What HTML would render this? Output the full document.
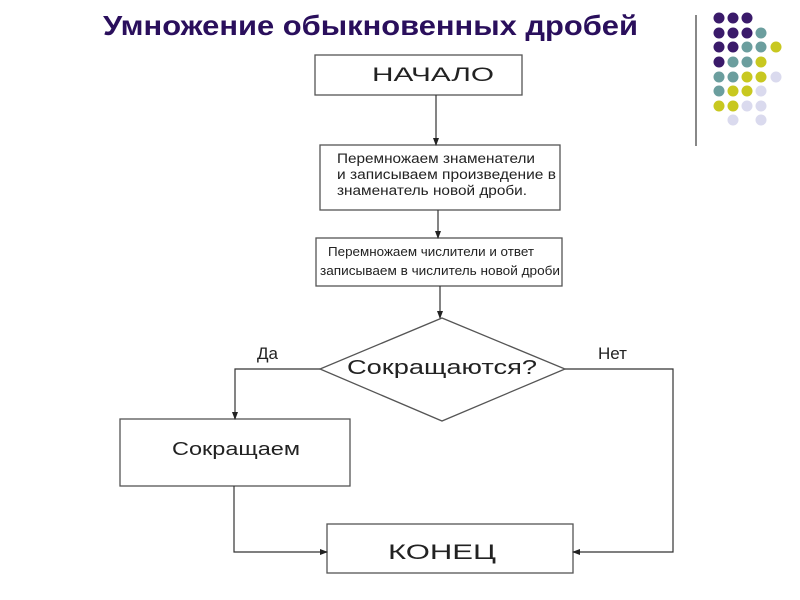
<!DOCTYPE html>
<html><head><meta charset="utf-8"><style>
html,body{margin:0;padding:0;background:#fff;}
svg{display:block;}
text{font-family:"Liberation Sans",sans-serif;}
</style></head><body>
<svg width="800" height="600" viewBox="0 0 800 600" xmlns="http://www.w3.org/2000/svg">
<defs><marker id="a" markerWidth="8" markerHeight="8" refX="7" refY="4" orient="auto" markerUnits="userSpaceOnUse"><path d="M0,1 L8,4 L0,7 z" fill="#222"/></marker></defs>
<text x="103" y="35" font-size="28" font-weight="bold" fill="#2a0f5c" textLength="535" lengthAdjust="spacingAndGlyphs">Умножение обыкновенных дробей</text>
<line x1="696" y1="15" x2="696" y2="146" stroke="#888" stroke-width="2"/>
<g>
<circle cx="719" cy="18" r="5.5" fill="#3a1a6a"/><circle cx="733" cy="18" r="5.5" fill="#3a1a6a"/><circle cx="747" cy="18" r="5.5" fill="#3a1a6a"/>
<circle cx="719" cy="33" r="5.5" fill="#3a1a6a"/><circle cx="733" cy="33" r="5.5" fill="#3a1a6a"/><circle cx="747" cy="33" r="5.5" fill="#3a1a6a"/><circle cx="761" cy="33" r="5.5" fill="#6b9e9e"/>
<circle cx="719" cy="47" r="5.5" fill="#3a1a6a"/><circle cx="733" cy="47" r="5.5" fill="#3a1a6a"/><circle cx="747" cy="47" r="5.5" fill="#6b9e9e"/><circle cx="761" cy="47" r="5.5" fill="#6b9e9e"/><circle cx="776" cy="47" r="5.5" fill="#c8c820"/>
<circle cx="719" cy="62" r="5.5" fill="#3a1a6a"/><circle cx="733" cy="62" r="5.5" fill="#6b9e9e"/><circle cx="747" cy="62" r="5.5" fill="#6b9e9e"/><circle cx="761" cy="62" r="5.5" fill="#c8c820"/>
<circle cx="719" cy="77" r="5.5" fill="#6b9e9e"/><circle cx="733" cy="77" r="5.5" fill="#6b9e9e"/><circle cx="747" cy="77" r="5.5" fill="#c8c820"/><circle cx="761" cy="77" r="5.5" fill="#c8c820"/><circle cx="776" cy="77" r="5.5" fill="#dadaee"/>
<circle cx="719" cy="91" r="5.5" fill="#6b9e9e"/><circle cx="733" cy="91" r="5.5" fill="#c8c820"/><circle cx="747" cy="91" r="5.5" fill="#c8c820"/><circle cx="761" cy="91" r="5.5" fill="#dadaee"/>
<circle cx="719" cy="106" r="5.5" fill="#c8c820"/><circle cx="733" cy="106" r="5.5" fill="#c8c820"/><circle cx="747" cy="106" r="5.5" fill="#dadaee"/><circle cx="761" cy="106" r="5.5" fill="#dadaee"/>
<circle cx="733" cy="120" r="5.5" fill="#dadaee"/><circle cx="761" cy="120" r="5.5" fill="#dadaee"/>
</g>
<g fill="#fff" stroke="#555" stroke-width="1.3">
<rect x="315" y="55" width="207" height="40"/>
<rect x="320" y="145" width="240" height="65"/>
<rect x="316" y="238" width="246" height="48"/>
<polygon points="442,318 565,369 442,421 320,369"/>
<rect x="120" y="419" width="230" height="67"/>
<rect x="327" y="524" width="246" height="49"/>
</g>
<g stroke="#333" stroke-width="1.2" fill="none" marker-end="url(#a)">
<line x1="436" y1="95" x2="436" y2="145"/>
<line x1="438" y1="210" x2="438" y2="238"/>
<line x1="440" y1="286" x2="440" y2="318"/>
<polyline points="320,369 235,369 235,419"/>
<polyline points="234,486 234,552 327,552"/>
<polyline points="565,369 673,369 673,552 573,552"/>
</g>
<g fill="#222">
<text x="372" y="81" font-size="19" textLength="122" lengthAdjust="spacingAndGlyphs">НАЧАЛО</text>
<text x="337" y="163" font-size="13.5" textLength="198" lengthAdjust="spacingAndGlyphs">Перемножаем знаменатели</text>
<text x="337" y="179" font-size="13.5" textLength="219" lengthAdjust="spacingAndGlyphs">и записываем произведение в</text>
<text x="337" y="195" font-size="13.5" textLength="190" lengthAdjust="spacingAndGlyphs">знаменатель новой дроби.</text>
<text x="328" y="256" font-size="13" textLength="206" lengthAdjust="spacingAndGlyphs">Перемножаем числители и ответ</text>
<text x="320" y="275" font-size="13" textLength="240" lengthAdjust="spacingAndGlyphs">записываем в числитель новой дроби</text>
<text x="347" y="374" font-size="20" textLength="190" lengthAdjust="spacingAndGlyphs">Сокращаются?</text>
<text x="257" y="359" font-size="17">Да</text>
<text x="598" y="359" font-size="17">Нет</text>
<text x="172" y="455" font-size="18" textLength="128" lengthAdjust="spacingAndGlyphs">Сокращаем</text>
<text x="388" y="559" font-size="21" textLength="108" lengthAdjust="spacingAndGlyphs">КОНЕЦ</text>
</g>
</svg>
</body></html>
